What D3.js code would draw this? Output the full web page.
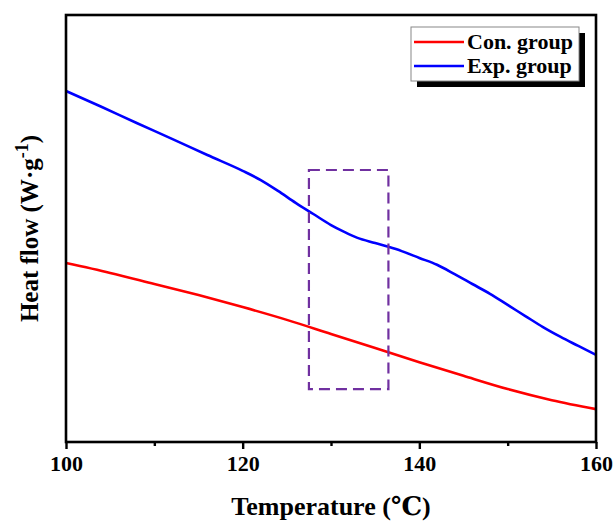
<!DOCTYPE html>
<html lang="en">
<head>
    <meta charset="UTF-8">
    <title>Heat flow</title>
    <style>
        body { margin: 0; background: #fff; }
        text { font-family: "Liberation Serif", "DejaVu Serif", serif; font-weight: bold; }
    </style>
</head>
<body>
<script src="https://cdn.jsdelivr.net/npm/d3@7/dist/d3.min.js"></script>
<script>

    // temperature (°C) and heat flow (arbitrary units, axis has no ticks)
    var conTemp = [100, 105, 110, 115, 120, 125, 130, 135, 140, 145, 150, 155, 160];
    var conFlow = [4.19, 3.96, 3.70, 3.44, 3.16, 2.86, 2.53, 2.20, 1.87, 1.55, 1.24, 0.98, 0.77];

    var expTemp = [100, 104, 108, 112, 116, 120, 122, 124, 126, 128, 130, 131.5, 133, 135, 136.5, 138, 140, 142, 144, 146, 148, 150, 152, 154, 156, 158, 160];
    var expFlow = [8.22, 7.85, 7.47, 7.10, 6.72, 6.35, 6.14, 5.88, 5.60, 5.34, 5.08, 4.92, 4.78, 4.66, 4.57, 4.47, 4.31, 4.15, 3.93, 3.70, 3.47, 3.21, 2.95, 2.69, 2.46, 2.25, 2.04];

    var xTicks = [100, 110, 120, 130, 140, 150, 160];
    var xLabels = [100, 120, 140, 160];

    var boxTemp = [127.5, 136.5];   // dashed highlight region
    var boxFlow = [1.24, 6.37];

    var legendNames = ["Con. group", "Exp. group"];
    var colors = ["#ff0000", "#0000ff"];

    var width = 614, height = 523;
    var mLeft = 66, mRight = 596, mTop = 15, mBottom = 442;

    var svg = d3.select("body").append("svg")
        .attr("width", width)
        .attr("height", height);

    var x = d3.scaleLinear().domain([100, 160]).range([mLeft, mRight]);
    var y = d3.scaleLinear().domain([0, 10]).range([mBottom, mTop]);

    // curves
    var line = d3.line()
        .x(function(d){ return x(d[0]); })
        .y(function(d){ return y(d[1]); })
        .curve(d3.curveMonotoneX);

    var series = [d3.zip(conTemp, conFlow), d3.zip(expTemp, expFlow)];
    svg.selectAll(".curve")
        .data(series)
        .enter()
        .append("path")
        .attr("class", "curve")
        .attr("d", line)
        .attr("fill", "none")
        .attr("stroke", function(d, i){ return colors[i]; })
        .attr("stroke-width", 2.6);

    // dashed box
    svg.append("rect")
        .attr("x", x(boxTemp[0]))
        .attr("y", y(boxFlow[1]))
        .attr("width", x(boxTemp[1]) - x(boxTemp[0]))
        .attr("height", y(boxFlow[0]) - y(boxFlow[1]))
        .attr("fill", "none")
        .attr("stroke", "#7030a0")
        .attr("stroke-width", 2.2)
        .attr("stroke-dasharray", "11,6");

    // frame
    svg.append("rect")
        .attr("x", mLeft).attr("y", mTop)
        .attr("width", mRight - mLeft).attr("height", mBottom - mTop)
        .attr("fill", "none")
        .attr("stroke", "#000")
        .attr("stroke-width", 2.6);

    // x axis ticks
    var xAxis = d3.axisBottom(x)
        .tickValues(xTicks)
        .tickSize(7)
        .tickFormat(function(d){ return xLabels.indexOf(d) >= 0 ? d : ""; });

    var gx = svg.append("g")
        .attr("transform", "translate(0," + mBottom + ")")
        .call(xAxis);
    gx.select(".domain").remove();
    gx.selectAll(".tick line")
        .attr("stroke-width", 2.4)
        .attr("y2", function(d){ return xLabels.indexOf(d) >= 0 ? 7 : 4; });
    gx.selectAll(".tick text")
        .attr("y", 13)
        .attr("font-size", 22)
        .attr("fill", "#000");

    // axis titles
    svg.append("text")
        .attr("x", (mLeft + mRight) / 2)
        .attr("y", 515)
        .attr("text-anchor", "middle")
        .attr("font-size", 26)
        .text("Temperature (\u2103)");

    var yt = svg.append("text")
        .attr("transform", "translate(38," + ((mTop + mBottom) / 2) + ") rotate(-90)")
        .attr("text-anchor", "middle")
        .attr("font-size", 25);
    yt.append("tspan").text("Heat flow (W\u00b7g");
    yt.append("tspan").attr("dy", -10).attr("font-size", 18).text("-1");
    yt.append("tspan").attr("dy", 10).text(")");

    // legend
    var lg = svg.append("g").attr("transform", "translate(411,27)");
    lg.append("rect")
        .attr("x", 6).attr("y", 6)
        .attr("width", 168).attr("height", 54)
        .attr("fill", "#000");
    lg.append("rect")
        .attr("width", 168).attr("height", 54)
        .attr("fill", "#fff")
        .attr("stroke", "#888")
        .attr("stroke-width", 1);

    var items = lg.selectAll(".item")
        .data(legendNames)
        .enter()
        .append("g")
        .attr("class", "item")
        .attr("transform", function(d, i){ return "translate(0," + (15 + i * 24) + ")"; });
    items.append("line")
        .attr("x1", 3).attr("x2", 53)
        .attr("stroke", function(d, i){ return colors[i]; })
        .attr("stroke-width", 2.6);
    items.append("text")
        .attr("x", 56)
        .attr("y", 7)
        .attr("font-size", 22)
        .text(function(d){ return d; });

</script>
</body>
</html>
